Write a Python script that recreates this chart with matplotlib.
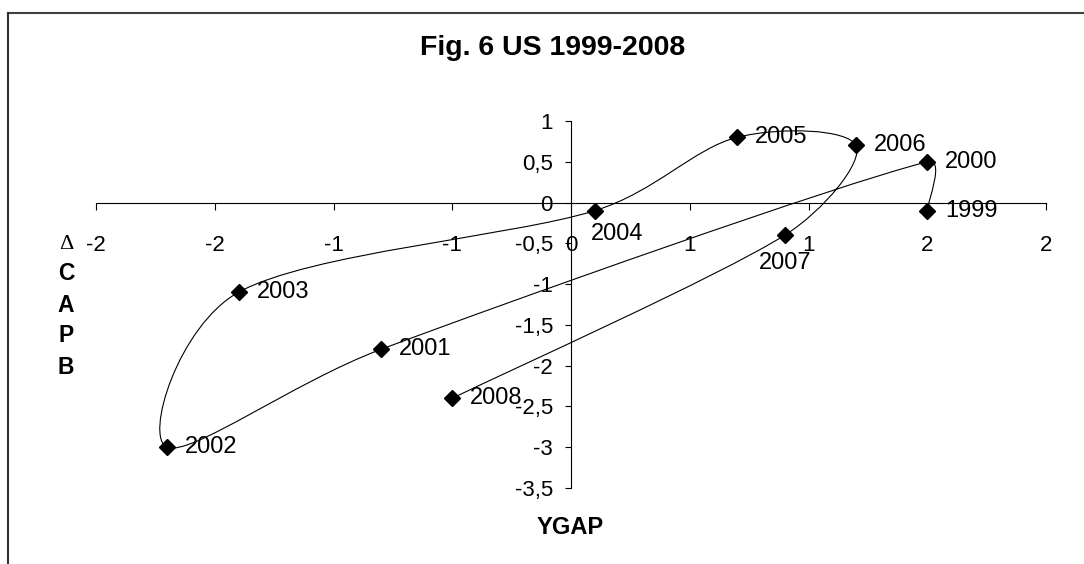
import matplotlib
matplotlib.use('Agg')
import matplotlib.pyplot as plt
import numpy as np
from matplotlib.path import Path
from matplotlib.patches import PathPatch
from matplotlib.lines import Line2D
from matplotlib.ticker import FuncFormatter, MultipleLocator

years = ['1999', '2000', '2001', '2002', '2003', '2004', '2005', '2006', '2007', '2008']
ygap = [1.5, 1.5, -0.8, -1.7, -1.4, 0.1, 0.7, 1.2, 0.9, -0.5]
dcapb = [-0.1, 0.5, -1.8, -3.0, -1.1, -0.1, 0.8, 0.7, -0.4, -2.4]

W, H = 1084, 564
plt.rcParams['font.family'] = ['Liberation Sans', 'DejaVu Sans']

fig = plt.figure(figsize=(W / 100, H / 100), dpi=100)
ax = fig.add_axes([96 / W, 1 - 488 / H, 950 / W, 367 / H])
ax.set_xlim(-2, 2)
ax.set_ylim(-3.5, 1)


def smooth_path(xs, ys, clamp=0.4):
    # excel-like smoothing: catmull-rom arms (chord/6) in display space,
    # each arm capped at a share of its own segment so short hops don't loop
    P = ax.transData.transform(np.column_stack([xs, ys]))
    n = len(P)
    arms = []
    for i in range(n):
        prv, nxt = P[max(i - 1, 0)], P[min(i + 1, n - 1)]
        d = (nxt - prv) / 6
        L = np.linalg.norm(d)
        a_in, a_out = d.copy(), d.copy()
        if L > 0:
            b = np.linalg.norm(P[i] - prv)
            a = np.linalg.norm(nxt - P[i])
            if i > 0 and L > clamp * b:
                a_in = d * clamp * b / L
            if i < n - 1 and L > clamp * a:
                a_out = d * clamp * a / L
        arms.append((a_in, a_out))
    verts, codes = [P[0]], [Path.MOVETO]
    for i in range(1, n):
        verts += [P[i - 1] + arms[i - 1][1], P[i] - arms[i][0], P[i]]
        codes += [Path.CURVE4] * 3
    return Path(ax.transData.inverted().transform(np.array(verts)), codes)


ax.add_patch(PathPatch(smooth_path(ygap, dcapb), fc='none', ec='black', lw=0.8))
ax.plot(ygap, dcapb, 'D', color='black', ms=8, clip_on=False, zorder=3)

# data labels: (dx, dy in points, ha)
label_pos = {'2004': (-3, -16.5, 'left'), '2007': (0, -20, 'center')}
for yr, x, y in zip(years, ygap, dcapb):
    dx, dy, ha = label_pos.get(yr, (13, 0, 'left'))
    ax.annotate(yr, (x, y), xytext=(dx, dy), textcoords='offset points',
                ha=ha, va='center', fontsize=17)

for s in ['top', 'right']:
    ax.spines[s].set_visible(False)
ax.spines['left'].set_position(('data', 0))
ax.spines['bottom'].set_position(('data', 0))
for s in ['left', 'bottom']:
    ax.spines[s].set_linewidth(0.8)


def ylab(v, _):
    v = round(v, 1)
    return ('0' if v == 0 else f'{v:g}').replace('.', ',')


ax.xaxis.set_major_locator(MultipleLocator(0.5))
ax.yaxis.set_major_locator(MultipleLocator(0.5))
ax.xaxis.set_major_formatter(FuncFormatter(lambda v, _: f'{int(np.sign(v) * np.floor(abs(v) + 0.5))}'))
ax.yaxis.set_major_formatter(FuncFormatter(ylab))
ax.tick_params(axis='x', direction='out', length=5, width=0.8, pad=18, labelsize=16)
ax.tick_params(axis='y', direction='out', length=4, width=0.8, pad=9, labelsize=16)
ax.set_facecolor('none')

fig.text(553 / W, 1 - 48 / H, 'Fig. 6 US 1999-2008', ha='center', va='center', fontsize=20.5, fontweight='bold')
fig.text(570 / W, 1 - 528 / H, 'YGAP', ha='center', va='center', fontsize=17, fontweight='bold')
fig.text(66 / W, 1 - 244 / H, 'Δ', ha='center', va='center', fontsize=16,
         family=['Liberation Serif', 'DejaVu Serif'])
for ch, py in zip('CAPB', [273, 305, 335, 367]):
    fig.text(66 / W, 1 - py / H, ch, ha='center', va='center', fontsize=16.5, fontweight='bold')

# chart frame (only top and left edges are inside the picture)
fig.add_artist(Line2D([8 / W, 1], [1 - 13 / H, 1 - 13 / H], color='#404040', lw=1.5))
fig.add_artist(Line2D([8 / W, 8 / W], [1 - 13 / H, 0], color='#303030', lw=1.5))

fig.savefig('out.png', dpi=100)
